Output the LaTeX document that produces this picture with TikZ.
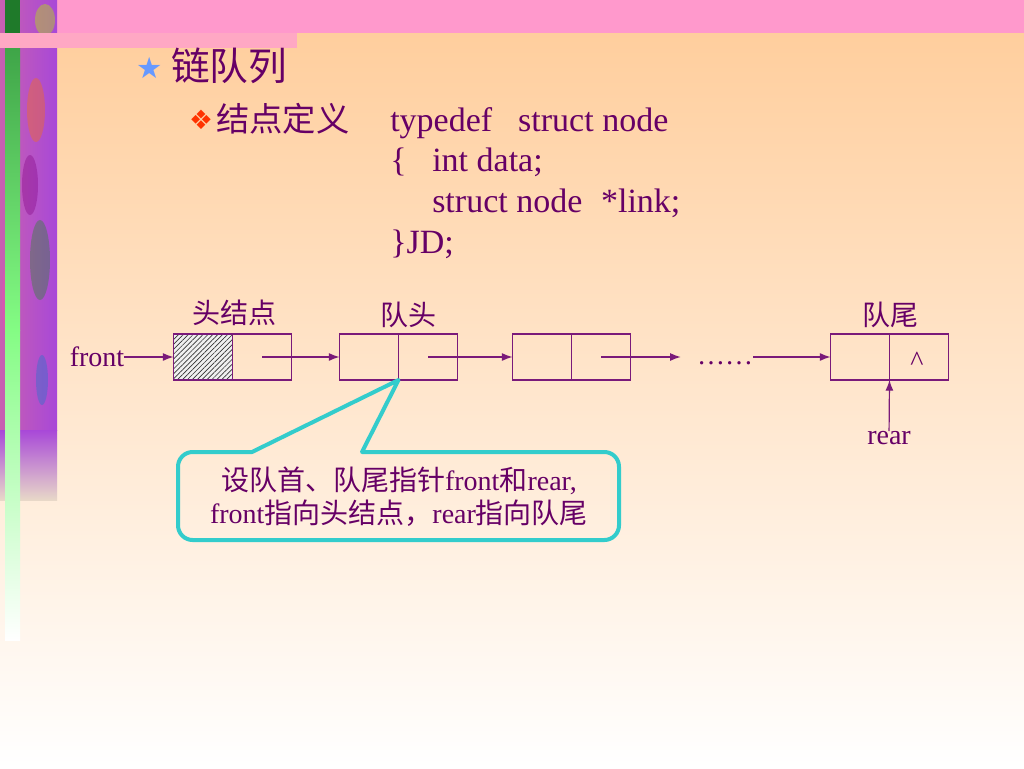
\documentclass[tikz,border=0pt]{standalone}
\usepackage{fontspec}
\setmainfont{Liberation Serif}
\newfontfamily\cjk{Noto Sans CJK SC}
\newfontfamily\symfont{DejaVu Sans}
\usepackage{tikz}
\usetikzlibrary{positioning}
\usetikzlibrary{arrows.meta}
\usetikzlibrary{patterns.meta}

\definecolor{textcol}{HTML}{660066}
\definecolor{linecol}{HTML}{7A1A7A}
\definecolor{calloutcol}{HTML}{33CCCC}
\definecolor{starblue}{HTML}{6699FF}
\definecolor{bulletred}{HTML}{FF3300}
\definecolor{peach}{HTML}{FFCC99}
\definecolor{peachmid}{HTML}{FFE6D2}
\definecolor{pinkband}{HTML}{FF99CC}
\definecolor{pinkbar}{HTML}{FFA8C4}
\definecolor{stripa}{HTML}{C860B0}
\definecolor{stripb}{HTML}{A848D8}
\definecolor{stripend}{HTML}{E8D8C8}
\definecolor{darkgreen}{HTML}{1F7A2A}
\definecolor{midgreen}{HTML}{3FA548}
\definecolor{lightgreen}{HTML}{84FC84}

\begin{document}
\begin{tikzpicture}[x=0.75pt, y=-0.75pt,
 every node/.style={text=textcol},
str/.style={rectangle, inner sep=0pt, font=\fontsize{21}{24.75}\selectfont},
code/.style={rectangle, inner sep=0pt, anchor=base west, font=\fontsize{25.5}{30}\selectfont},
cell/.style={rectangle, draw=linecol, line width=0.8pt, inner sep=0pt, outer sep=0pt, minimum width=44.25pt, minimum height=34.5pt},
arrow/.style={-{Latex[length=8pt, width=6pt]}, draw=linecol, line width=0.9pt},
callout/.style={draw=calloutcol, line width=3pt, line join=round}]

\useasboundingbox (0,0) rectangle (1024,768);

% background
\shade[top color=peach, middle color=peachmid, bottom color=white] (0,0) rectangle (1024,768);
\fill[pinkband] (0,0) rectangle (1024,33);

% left strip
\shade[left color=stripa, right color=stripb] (0,0) rectangle (57,430);
\shade[top color=stripb, bottom color=stripend] (0,430) rectangle (57,500);
\fill[yellow!70!green, opacity=.45] (45,20) ellipse (10 and 16);
\fill[orange!90!red, opacity=.35] (36,110) ellipse (9 and 32);
\fill[violet, opacity=.35] (30,185) ellipse (8 and 30);
\fill[green!60!black, opacity=.3] (40,260) ellipse (10 and 40);
\fill[magenta!70, opacity=.35] (8,300) ellipse (6 and 40);
\fill[cyan!60!blue, opacity=.35] (42,380) ellipse (6 and 25);
\fill[darkgreen] (5,0) rectangle (20,33);
\shade[top color=midgreen, bottom color=lightgreen] (5,48) rectangle (20,330);
\shade[top color=lightgreen, bottom color=white] (5,330) rectangle (20,640);
\fill[pinkbar] (0,33) rectangle (297,48);

% title
\node[inner sep=0pt, text=starblue, font=\symfont\fontsize{22}{22}\selectfont] (star) at (150,68) {★};
\node[inner sep=0pt, anchor=west, font=\cjk\fontsize{29}{30}\selectfont] (title) at (171,66) {链队列};
\node[inner sep=0pt, text=bulletred, font=\symfont\fontsize{20}{20}\selectfont] (bullet) at (201,120) {❖};
\node[inner sep=0pt, anchor=west, font=\cjk\fontsize{25}{26}\selectfont] (subtitle) at (216,119) {结点定义};

% struct definition
\node[code] (c1) at (390,131) {typedef\hspace{19.5pt}struct node};
\node[code] (c2) at (390,171) {\makebox[31.5pt][l]{\{}int data;};
\node[code] (c3) at (432,212) {struct node\hspace{14pt}*link;};
\node[code] (c4) at (390,253) {\}JD;};

% linked queue
\node[str] (front) at (97,357) {front};
\node[cell, preaction={fill=gray!12}, pattern={Lines[angle=45, distance=2.6pt, line width=0.5pt]}, pattern color=black!80] (hdata) at (203,357) {};
\node[cell, right=0pt of hdata] (hnext) {};
\node[str] (headlbl) at (234,313) {\cjk 头结点};

\node[cell] (n2data) at (369,357) {};
\node[cell, right=0pt of n2data] (n2next) {};
\node[str] (qhead) at (408,315) {\cjk 队头};

\node[cell] (n3data) at (542,357) {};
\node[cell, right=0pt of n3data] (n3next) {};

\node[str, anchor=base] (dots) at (725,364) {……};

\node[cell] (n4data) at (860,357) {};
\node[cell, right=0pt of n4data] (n4next) {};
\node[str] (nil) at (917,361) {\textasciicircum};
\node[str] (qtail) at (890,315) {\cjk 队尾};
\node[str] (rear) at (889,438) {rear};

\draw (front) edge[arrow] (hdata);
\draw (hnext.center) edge[arrow] (n2data);
\draw (n2next.center) edge[arrow] (n3data);
\draw (n3next.center) edge[arrow] ([xshift=-12pt]dots.west |- n3next.center);
\draw (dots.east |- n4data.west) edge[arrow] (n4data);
\draw (rear) edge[arrow] (n4data.south east);

% callout
\draw[callout] (n2data.south east) -- (362,452) [rounded corners=11pt] -- (619,452) -- (619,540) -- (178,540) -- (178,452) [sharp corners] -- (252,452) -- cycle;
\node[str, align=center] (note) at (399,497) {{\cjk 设队首、队尾指针}front{\cjk 和}rear,\\front{\cjk 指向头结点，}rear{\cjk 指向队尾}};

\end{tikzpicture}
\end{document}
